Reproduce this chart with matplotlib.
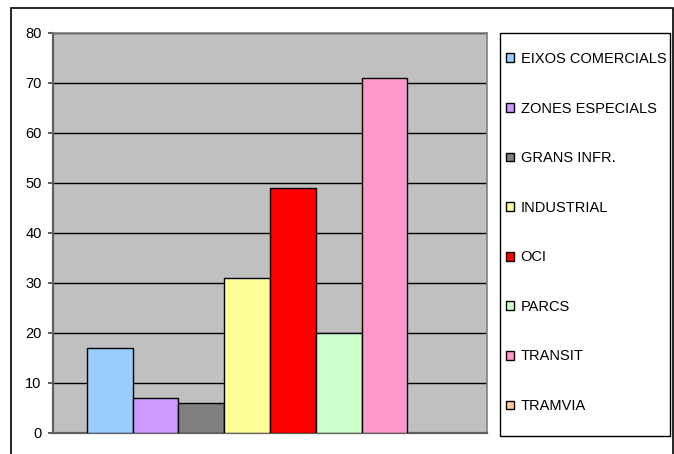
import matplotlib.pyplot as plt
from matplotlib.patches import Rectangle, Patch

plt.rcParams['font.family'] = ['Liberation Sans', 'DejaVu Sans']

labels = ["EIXOS COMERCIALS", "ZONES ESPECIALS", "GRANS INFR.", "INDUSTRIAL",
          "OCI", "PARCS", "TRANSIT", "TRAMVIA"]
values = [17, 7, 6, 31, 49, 20, 71, 0]
colors = ["#99ccff", "#cc99ff", "#808080", "#ffff99",
          "#ff0000", "#ccffcc", "#ff99cc", "#ffcc99"]
yticks = [0, 10, 20, 30, 40, 50, 60, 70, 80]

W, H = 674, 454
fig = plt.figure(figsize=(W / 100, H / 100), dpi=100)
ax = fig.add_axes([53 / W, 1 - 433 / H, (487 - 53) / W, (433 - 33) / H])
ax.set_facecolor("#c0c0c0")

n = len(values)
pos = [i - (n - 1) / 2 for i in range(n)]
for p, v, c in zip(pos, values, colors):
    ax.bar(p, v, width=1.0, color=c, edgecolor="black",
           linewidth=1.0 if v > 0 else 0, zorder=3)

ax.set_xlim(-4.74, 4.74)
ax.set_ylim(0, 80)
ax.set_yticks(yticks)
ax.set_xticks([])
ax.yaxis.grid(True, color="black", linewidth=1.0, zorder=1)
ax.set_axisbelow(True)
ax.tick_params(axis="y", length=3.6, width=1.2, color="#404040", labelsize=10.5, pad=4.5)
for s in ["left", "bottom"]:
    ax.spines[s].set_color("#606060")
    ax.spines[s].set_linewidth(1.6)
for s in ["top", "right"]:
    ax.spines[s].set_color("#808080")
    ax.spines[s].set_linewidth(1.2)

handles = [Patch(facecolor=c, edgecolor="black", linewidth=1.0) for c in colors]
leg = fig.legend(handles, labels, loc="upper left",
                 bbox_to_anchor=(506 / W, 1 - 52 / H), fontsize=10.5,
                 frameon=False, labelspacing=2.44, borderpad=0,
                 handlelength=0.55, handleheight=0.55, handletextpad=0.45,
                 borderaxespad=0)

# legend box
fig.patches.append(Rectangle((500 / W, 1 - 436 / H), 170 / W, 403 / H,
                             transform=fig.transFigure, fill=False,
                             edgecolor="black", linewidth=1.0))

# outer chart border
fig.patches.append(Rectangle((11 / W, -0.05), (673 - 11) / W, 1.05 - 8 / H,
                             transform=fig.transFigure, fill=False,
                             edgecolor="black", linewidth=1.2))

fig.savefig("out.png", dpi=100)
